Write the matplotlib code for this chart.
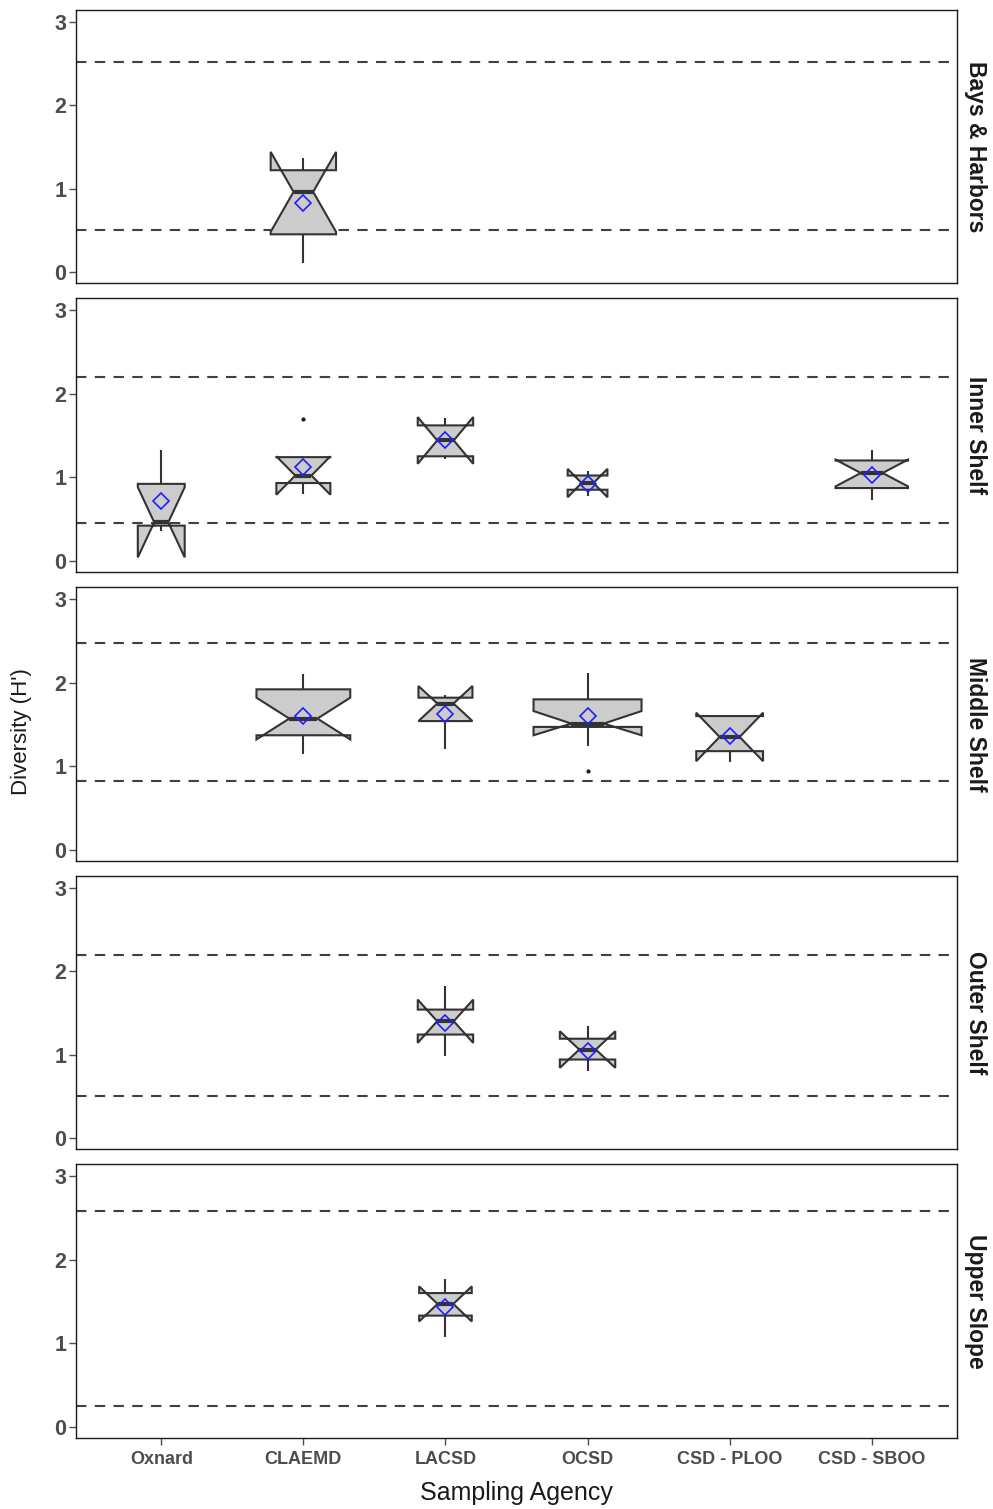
import numpy as np
import matplotlib
matplotlib.use("Agg")
import matplotlib.pyplot as plt
from matplotlib.patches import Polygon

plt.rcParams['font.family'] = ['Liberation Sans', 'DejaVu Sans']

# ---------------- data ----------------
agencies = ["Oxnard", "CLAEMD", "LACSD", "OCSD", "CSD - PLOO", "CSD - SBOO"]
habitats = ["Bays & Harbors", "Inner Shelf", "Middle Shelf", "Outer Shelf", "Upper Slope"]

# reference (dashed) lines per habitat: lower, upper
ref_low = [0.50, 0.45, 0.82, 0.50, 0.25]
ref_high = [2.52, 2.20, 2.48, 2.20, 2.58]

# one entry per box
box_habitat = ["Bays & Harbors", "Inner Shelf", "Inner Shelf", "Inner Shelf", "Inner Shelf", "Inner Shelf",
               "Middle Shelf", "Middle Shelf", "Middle Shelf", "Middle Shelf",
               "Outer Shelf", "Outer Shelf", "Upper Slope"]
box_agency = ["CLAEMD", "Oxnard", "CLAEMD", "LACSD", "OCSD", "CSD - SBOO",
              "CLAEMD", "LACSD", "OCSD", "CSD - PLOO",
              "LACSD", "OCSD", "LACSD"]
q1 =        [0.45, 0.42, 0.93, 1.25, 0.85, 0.87, 1.37, 1.54, 1.47, 1.18, 1.24, 0.94, 1.33]
median =    [0.96, 0.46, 1.02, 1.44, 0.93, 1.05, 1.57, 1.75, 1.51, 1.35, 1.40, 1.06, 1.47]
q3 =        [1.22, 0.92, 1.24, 1.62, 1.02, 1.20, 1.92, 1.82, 1.80, 1.60, 1.54, 1.19, 1.60]
notch_lo =  [0.48, 0.04, 0.79, 1.16, 0.76, 0.89, 1.32, 1.54, 1.37, 1.06, 1.14, 0.84, 1.26]
notch_hi =  [1.44, 0.88, 1.25, 1.72, 1.10, 1.21, 1.82, 1.96, 1.66, 1.64, 1.66, 1.28, 1.68]
whisk_lo =  [0.11, 0.35, 0.80, 1.22, 0.77, 0.73, 1.14, 1.21, 1.24, 1.05, 0.98, 0.80, 1.08]
whisk_hi =  [1.37, 1.33, 1.24, 1.71, 1.07, 1.33, 2.10, 1.85, 2.12, 1.61, 1.82, 1.34, 1.77]
mean_val =  [0.83, 0.71, 1.12, 1.44, 0.92, 1.03, 1.60, 1.63, 1.60, 1.36, 1.38, 1.04, 1.43]
outliers =  [[], [], [1.70], [], [], [], [], [], [0.94], [], [], [], []]

# ---------------- style ----------------
box_widths = [0.46, 0.33, 0.38, 0.39, 0.28, 0.51, 0.66, 0.38, 0.76, 0.47, 0.39, 0.39, 0.37]
notchwidth = 0.3
fill_col = "#cccccc"
edge_col = "#333333"
tick_col = "#4d4d4d"

W, H = 993, 1509
fig = plt.figure(figsize=(W / 100, H / 100), dpi=100)
left_px, right_px = 76, 957
panel_px = [(10, 283), (298, 572), (587, 861), (876, 1149), (1164, 1438)]

axes = []
for i, (t, b) in enumerate(panel_px):
    ax = fig.add_axes([left_px / W, 1 - b / H, (right_px - left_px) / W, (b - t) / H])
    axes.append(ax)

xpos = {a: i + 1 for i, a in enumerate(agencies)}

for hi, (ax, hab) in enumerate(zip(axes, habitats)):
    ax.set_xlim(0.4, 6.6)
    ax.set_ylim(-0.135, 3.145)
    ax.set_yticks([0, 1, 2, 3])
    ax.set_xticks(range(1, 7))
    for sp in ax.spines.values():
        sp.set_linewidth(1.0)
        sp.set_color("#1a1a1a")
    ax.tick_params(axis='y', length=5, width=1.0, color=tick_col, labelsize=15.5,
                   labelcolor=tick_col, pad=2)
    for lab in ax.get_yticklabels():
        lab.set_fontweight('bold')
    if hi < len(habitats) - 1:
        ax.tick_params(axis='x', length=0, labelbottom=False)
    else:
        ax.tick_params(axis='x', length=5, width=1.0, color=tick_col, labelsize=13,
                       labelcolor=tick_col, pad=4)
        ax.set_xticklabels(agencies, fontweight='bold')

    ax.axhline(ref_high[hi], color="#404040", lw=1.5, dashes=(5, 4), zorder=1)
    ax.axhline(ref_low[hi], color="#404040", lw=1.5, dashes=(5, 4), zorder=1)

    ax.annotate(hab, xy=(1.0, 0.5), xycoords='axes fraction', xytext=(13, 0),
                textcoords='offset points', rotation=270, ha='center', va='center',
                fontsize=16.5, fontweight='bold', color="#1a1a1a")

for k in range(len(box_agency)):
    ax = axes[habitats.index(box_habitat[k])]
    x = xpos[box_agency[k]]
    w = box_widths[k]
    xmin, xmax = x - w / 2, x + w / 2
    ind = (1 - notchwidth) * (xmax - xmin) / 2
    # whiskers
    ax.plot([x, x], [q3[k], whisk_hi[k]], color=edge_col, lw=1.5, zorder=2, solid_capstyle='butt')
    ax.plot([x, x], [q1[k], whisk_lo[k]], color=edge_col, lw=1.5, zorder=2, solid_capstyle='butt')
    xs = [xmin, xmin, xmin + ind, xmin, xmin, xmax, xmax, xmax - ind, xmax, xmax]
    ys = [q3[k], notch_hi[k], median[k], notch_lo[k], q1[k], q1[k], notch_lo[k], median[k], notch_hi[k], q3[k]]
    poly = Polygon(np.column_stack([xs, ys]), closed=True, facecolor=fill_col,
                   edgecolor=edge_col, lw=1.5, joinstyle='miter', zorder=3)
    ax.add_patch(poly)
    ax.plot([xmin + ind, xmax - ind], [median[k], median[k]], color=edge_col, lw=3.0,
            zorder=4, solid_capstyle='butt')
    for o in outliers[k]:
        ax.plot([x], [o], 'o', color="#1a1a1a", ms=2, zorder=4)
    ax.plot([x], [mean_val[k]], marker='D', ms=8.5, mfc='none', mec='#1f1fff', mew=1.2,
            linestyle='none', zorder=5)

fig.text(22 / W, 1 - 732 / H, "Diversity (H')", rotation=90, ha='center', va='center',
         fontsize=16, color="#1a1a1a")
fig.text((left_px + right_px) / 2 / W, 1 - 1493 / H, "Sampling Agency", ha='center',
         va='center', fontsize=18, color="#1a1a1a")

fig.savefig("out.png", dpi=100)
